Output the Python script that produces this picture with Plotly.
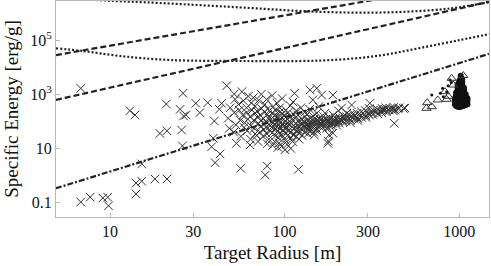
import plotly.graph_objects as go

# ---------------- data ----------------
# sparse / outlying crosses
cross_radius_m = [
    6.8, 7.7, 9.1, 9.7, 9.8, 14.1, 14.1, 15.2, 18.1, 21.2, 15.2,
    6.8, 13.0, 13.9, 21.0, 25.2, 26.2, 26.4, 19.3, 21.2, 25.7, 26.0,
    46.6, 51.5, 57, 31, 36.3, 32.7, 43.6, 42.3, 39.6, 39, 38.2, 40,
    56, 79.5, 77.5, 42.7, 53, 63.4, 120, 177, 189,
    114, 140, 153, 163, 189, 145, 308, 242, 212, 366, 429, 489, 425, 178, 180, 148, 27.3,
]
cross_energy = [
    0.106, 0.16, 0.149, 0.16, 0.077, 0.21, 0.53, 0.62, 0.75, 0.75, 2.7,
    1660, 248, 172, 438, 279, 1090, 158, 36, 45, 48, 12.4,
    2070, 1025, 1250, 466, 490, 210, 466, 280, 103, 23.8, 11.6, 3.0,
    1.86, 2.26, 1.05, 6.3, 15.5, 13.5, 1.7, 15.5, 37,
    1090, 1440, 1660, 940, 940, 617, 466, 403, 312, 263, 263, 312, 85, 18.8, 31.5, 31.5, 172,
]

# dense cloud of crosses
cloud_radius_m = [
    47.5, 48.8, 48.2,
    51.5, 52.6, 52, 51.2,
    54.5, 55.8, 55, 56.2,
    57.5, 58.6, 58, 59,
    60.5, 61.6, 61, 62, 60.8,
    63.5, 64.6, 64, 65, 63.8,
    66.5, 67.6, 67, 68, 66.2, 67.8,
    69.5, 70.8, 70, 71, 69.2, 70.5,
    72.5, 73.8, 73, 74, 72.2, 73.5,
    75.5, 76.8, 76, 77, 75.2, 76.5,
    78.5, 79.8, 79, 80, 78.2, 79.5, 78.8,
    81.5, 82.8, 82, 83, 81.2, 82.5,
    84.5, 85.8, 85, 86, 84.2, 85.5, 84.8,
    87.5, 88.8, 88, 89, 87.2, 88.5, 87.8,
    90.5, 91.8, 91, 92, 90.2, 91.5, 90.8,
    93.5, 94.8, 94, 95, 93.2, 94.5, 93.8,
    96.5, 97.8, 97, 98, 96.2, 97.5, 96.8,
    99.5, 100.8, 100, 101, 99.2, 100.5, 99.8, 101.5,
    103.5, 104.8, 104, 105, 103.2, 104.5, 103.8,
    107.5, 108.8, 108, 109, 107.2, 108.5, 107.8,
    111.5, 112.8, 112, 113, 111.2, 112.5, 111.8,
    115.5, 116.8, 116, 117, 115.2, 116.5,
    119.5, 120.8, 120, 121, 119.2, 120.5,
    124.5, 125.8, 125, 126, 124.2, 125.5,
    129.5, 130.8, 130, 131, 129.2, 130.5,
    134.5, 135.8, 135, 136, 134.2, 135.5,
    139.5, 140.8, 140, 141, 139.2, 140.5,
    145.5, 146.8, 146, 147, 145.2, 146.5,
    151.5, 152.8, 152, 153, 151.2, 152.5,
    157.5, 158.8, 158, 159, 157.2,
    164, 166, 165, 167, 163.5,
    171, 173, 172, 174, 170.5,
    179, 181, 180, 182, 178.5,
    187, 189, 188, 190, 186.5,
    195, 197, 196, 198,
    204, 206, 205, 207, 203,
    214, 216, 215, 217,
    224, 226, 225, 227,
    235, 237, 236, 238,
    247, 249, 248, 250,
    259, 261, 260, 262,
    274, 276, 275,
    288, 291, 290, 292,
    303, 306, 305,
    318, 322, 320,
    338, 342, 340,
    358, 362, 360,
    378, 382, 380,
    398, 402,
    418, 422, 420,
    448, 452,
    480,
]
cloud_energy = [
    130, 320, 55,
    210, 75, 650, 40,
    420, 110, 260, 28,
    170, 60, 580, 90,
    320, 120, 45, 850, 210,
    150, 480, 70, 260, 22,
    110, 360, 55, 200, 750, 35,
    240, 85, 140, 600, 30, 18,
    170, 300, 65, 110, 40, 1000,
    130, 220, 50, 420, 28, 80,
    95, 180, 35, 290, 60, 15, 650,
    140, 70, 250, 45, 22, 110,
    200, 90, 38, 350, 60, 13, 900,
    120, 55, 170, 30, 75, 260, 18,
    85, 150, 42, 25, 480, 11, 65,
    110, 60, 220, 35, 16, 90, 320,
    140, 48, 75, 28, 12, 190, 700,
    95, 55, 38, 20, 160, 9, 70, 260,
    120, 65, 30, 45, 14, 210, 85,
    75, 40, 150, 25, 100, 10, 380,
    110, 55, 32, 180, 18, 70, 520,
    85, 45, 140, 28, 60, 250,
    100, 38, 65, 22, 170, 48,
    75, 120, 52, 30, 320, 90,
    95, 60, 40, 150, 70, 220,
    110, 50, 80, 35, 180, 65,
    70, 130, 45, 95, 280, 55,
    85, 120, 60, 40, 160, 100,
    75, 110, 55, 200, 90, 45,
    95, 65, 130, 80, 350,
    80, 110, 60, 150, 100,
    90, 70, 120, 55, 200,
    100, 80, 140, 65, 110,
    85, 120, 95, 170, 70,
    110, 90, 130, 75,
    100, 140, 85, 120, 250,
    110, 130, 95, 160,
    120, 150, 100, 200,
    130, 110, 170, 90,
    140, 120, 190, 160,
    150, 130, 200, 110,
    170, 140, 230,
    180, 160, 250, 140,
    200, 170, 300,
    210, 260, 180,
    230, 190, 280,
    250, 300, 210,
    270, 230, 320,
    260, 300,
    280, 330, 240,
    290, 320,
    300,
]

# open triangles near 1 km
tri_radius_m = [905, 1055, 656, 696, 650, 754, 848, 866, 829, 925]
tri_energy = [3890, 4940, 490, 349, 304, 617, 653, 843, 1250, 2200]

# small filled dots
dot_radius_m = [696, 803, 848, 810, 886, 863, 780, 900]
dot_energy = [942, 1660, 1250, 815, 3370, 2050, 1100, 2700]

# dense black blob of filled points at ~1 km
blob_radius_m = [
    945, 945, 945,
    960, 960, 960, 960, 960, 960,
    980, 980, 980, 980, 980, 980, 980, 980, 980, 980,
    1000, 1000, 1000, 1000, 1000, 1000, 1000, 1000, 1000, 1000, 1000, 1000,
    1020, 1020, 1020, 1020, 1020, 1020, 1020, 1020, 1020, 1020, 1020, 1020, 1020, 1020,
    1040, 1040, 1040, 1040, 1040, 1040, 1040, 1040, 1040, 1040, 1040, 1040,
    1065, 1065, 1065, 1065, 1065, 1065, 1065, 1065,
    1090, 1090, 1090, 1090, 1090,
    1115, 1115, 1115,
]
blob_energy = [
    420, 550, 720,
    370, 460, 580, 730, 920, 1150,
    350, 430, 530, 660, 820, 1000, 1250, 1550, 1900, 2300,
    340, 420, 520, 640, 780, 950, 1150, 1400, 1700, 2100, 2600, 3100,
    350, 430, 530, 650, 800, 980, 1200, 1500, 1850, 2300, 2900, 3500, 4200, 4800,
    360, 440, 540, 670, 820, 1000, 1250, 1550, 1900, 2400, 3000, 3700,
    380, 470, 580, 720, 890, 1100, 1400, 1750,
    400, 500, 630, 800, 1000,
    430, 560, 720,
]

# scaling curves
dash_low_r = [4.9, 1480]
dash_low_e = [620, 2.6e6]
dash_high_r = [4.9, 1480]
dash_high_e = [2.8e4, 1.66e7]
dashdot_r = [4.9, 1480]
dashdot_e = [0.34, 3.1e4]
dot_low_r = [4.9, 7.0, 11.4, 22.1, 63.4, 122, 208, 352, 596, 1011, 1500]
dot_low_e = [49800, 39600, 25900, 18400, 16900, 16900, 19200, 27000, 51000, 101000, 168000]
dot_high_r = [4.9, 9.36, 19.3, 63.4, 122, 237, 458, 886, 1500]
dot_high_e = [3.8e6, 2.89e6, 2.34e6, 1.53e6, 1.19e6, 1.04e6, 1.09e6, 1.47e6, 2.55e6]

x_tickvals = [10, 30, 100, 300, 1000]
x_ticktext = ["10", "30", "100", "300", "1000"]
y_tickvals = [0.1, 10, 1000, 100000]
y_ticktext = ["0.1", "10", "10<sup>3</sup>", "10<sup>5</sup>"]

# ---------------- figure ----------------
INK = "#222222"
fig = go.Figure()

xmark = dict(symbol="x-thin", size=8.5, color="#333333", line=dict(width=1, color="#333333"))
fig.add_trace(go.Scatter(x=cross_radius_m, y=cross_energy, mode="markers", marker=xmark))
fig.add_trace(go.Scatter(x=cloud_radius_m, y=cloud_energy, mode="markers", marker=xmark))
fig.add_trace(go.Scatter(x=blob_radius_m, y=blob_energy, mode="markers",
                         marker=dict(symbol="circle", size=6, color="#111111")))
fig.add_trace(go.Scatter(x=tri_radius_m, y=tri_energy, mode="markers",
                         marker=dict(symbol="triangle-up-open", size=8, color="#333333",
                                     line=dict(width=1))))
fig.add_trace(go.Scatter(x=dot_radius_m, y=dot_energy, mode="markers",
                         marker=dict(symbol="circle", size=3, color="#111111")))

line_w = 2.2
fig.add_trace(go.Scatter(x=dash_low_r, y=dash_low_e, mode="lines",
                         line=dict(color=INK, width=line_w, dash="6px,3px")))
fig.add_trace(go.Scatter(x=dash_high_r, y=dash_high_e, mode="lines",
                         line=dict(color=INK, width=line_w, dash="6px,3px")))
fig.add_trace(go.Scatter(x=dashdot_r, y=dashdot_e, mode="lines",
                         line=dict(color=INK, width=line_w, dash="6px,2px,2px,2px")))
fig.add_trace(go.Scatter(x=dot_low_r, y=dot_low_e, mode="lines", line_shape="spline",
                         line=dict(color=INK, width=line_w, dash="2px,2px")))
fig.add_trace(go.Scatter(x=dot_high_r, y=dot_high_e, mode="lines", line_shape="spline",
                         line=dict(color=INK, width=line_w, dash="2px,2px")))

FONT = "Times New Roman"
axis_common = dict(
    type="log", showgrid=False, zeroline=False,
    showline=True, linecolor="#b8b8b8", linewidth=1, mirror=True,
    ticks="inside", ticklen=4, tickcolor="#b8b8b8",
    tickfont=dict(family=FONT, size=16, color="#111111"),
)
fig.update_xaxes(**axis_common, range=[0.6907, 3.1707],
                 tickvals=x_tickvals, ticktext=x_ticktext,
                 title=dict(text="Target Radius [m]", font=dict(family=FONT, size=19, color="#111111"),
                            standoff=6))
fig.update_yaxes(**axis_common, range=[-1.528, 6.443],
                 tickvals=y_tickvals, ticktext=y_ticktext,
                 title=dict(text="Specific Energy [erg/g]", font=dict(family=FONT, size=19, color="#111111"),
                            standoff=6))
fig.update_layout(
    width=491, height=266,
    margin=dict(l=56, r=2, t=1, b=49),
    paper_bgcolor="white", plot_bgcolor="white",
    showlegend=False,
    font=dict(family=FONT),
)
fig.write_html("out.html", config={"displayModeBar": False},
               post_script="document.body.style.margin='0px';")
